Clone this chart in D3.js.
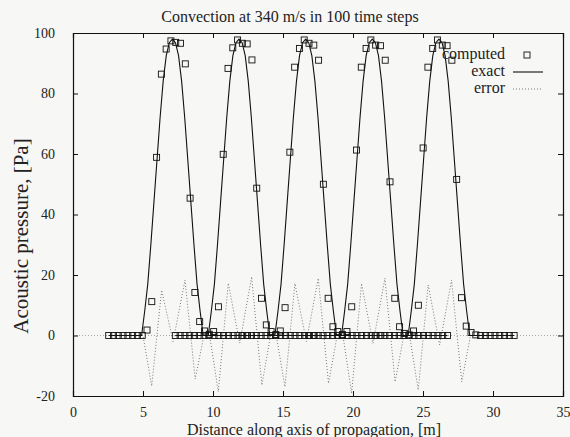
<!DOCTYPE html>
<html>
<head>
<meta charset="utf-8">
<script src="https://cdn.jsdelivr.net/npm/d3@7"></script>
<style>
  body { margin: 0; background: #f7f7f5; }
  svg { display: block; font-family: "Liberation Serif", "Times New Roman", serif; }
  .axis path { stroke: #111; }
  .axis line { stroke: #111; }
  .axis text { font-family: "Liberation Serif", serif; font-size: 14px; fill: #222; }
</style>
</head>
<body>
<div id="container"></div>
<script>
// tick labels
const xTicks = [0, 5, 10, 15, 20, 25, 30, 35];
const yTicks = [-20, 0, 20, 40, 60, 80, 100];

// computed solution: 5 snapshots on a grid, start position of each snapshot + step
const snapStart = [2.55, 7.31, 12.07, 16.83, 21.59];
const gridStep = 0.342;
const computed1 = [0, 0, 0, 0, 0, 0, 0, 0, 1.8, 11.2, 58.9, 86.4, 94.7, 97.4, 96.9, 96.6, 89.8, 45.4, 14.2, 4.6, 1.5, 0.4, 0, 0, 0, 0, 0, 0, 0, 0];
const computed2 = [0, 0, 0, 0, 0, 0, 0, 0, 1.3, 9.5, 59.9, 88.3, 95.1, 97.7, 96.6, 96.4, 91.1, 48.7, 12.3, 3.5, 1.3, 0.3, 0, 0, 0, 0, 0, 0, 0, 0];
const computed3 = [0, 0, 0, 0, 0, 0, 0, 0, 1.5, 9.2, 60.6, 88.7, 94.9, 97.7, 96.6, 96.0, 91.0, 50.0, 12.3, 2.9, 1.3, 0.3, 0, 0, 0, 0, 0, 0, 0, 0];
const computed4 = [0, 0, 0, 0, 0, 0, 0, 0, 1.3, 9.5, 61.3, 88.7, 94.9, 97.7, 96.0, 95.8, 91.0, 50.8, 12.3, 2.9, 0.7, 0.2, 0, 0, 0, 0, 0, 0, 0, 0];
const computed5 = [0, 0, 0, 0, 0, 0, 0, 0, 1.5, 10.0, 62.0, 88.7, 94.9, 97.7, 96.0, 95.8, 91.0, 51.6, 12.5, 3.1, 1.0, 0.2, 0, 0, 0, 0, 0, 0, 0, 0];
const computedAll = [computed1, computed2, computed3, computed4, computed5];

// exact pulse: left foot of each pulse, then the profile along the pulse
const pulseBase = [4.9, 9.66, 14.42, 19.18, 23.94];
const exactOffsets = [0, 0.22, 0.44, 0.66, 0.88, 1.1, 1.32, 1.54, 1.76, 1.98, 2.2, 2.42, 2.64, 2.86, 3.08, 3.3, 3.52, 3.74, 3.96, 4.18, 4.4];
const exactShape = [0, 8, 17, 30, 44, 58, 72, 84, 92.5, 96.8, 98.0, 96.8, 92.5, 84, 72, 58, 44, 30, 17, 8, 0];

// error (computed - exact) zigzag per pulse
const errOffsets = [0.1, 0.72, 1.43, 2.25, 3.1, 3.83, 4.45];
const error1 = [0, -16.7, 15.0, -2.0, 18.3, -14.4, 0];
const error2 = [0, -18.6, 17.3, -2.5, 19.4, -16.4, 0];
const error3 = [0, -17.0, 17.2, -2.0, 18.9, -15.8, 0];
const error4 = [0, -19.1, 17.2, -2.6, 18.9, -15.3, 0];
const error5 = [0, -18.0, 16.7, -3.1, 18.3, -15.3, 0];
const errorAll = [error1, error2, error3, error4, error5];

const w = 570;
const h = 437;
const margin = { top: 33, right: 7, bottom: 41, left: 73 };

const xScale = d3.scaleLinear().domain([0, 35]).range([margin.left, w - margin.right]);
const yScale = d3.scaleLinear().domain([-20, 100]).range([h - margin.bottom, margin.top]);

let svg = d3.select("#container").append("svg").attr("width", w).attr("height", h);

// zero axis (dotted)
svg.append("line")
  .attr("x1", xScale(0)).attr("x2", xScale(35))
  .attr("y1", yScale(0)).attr("y2", yScale(0))
  .attr("stroke", "#aaa").attr("stroke-dasharray", "1,2");

const line = d3.line().x((d) => xScale(d[0])).y((d) => yScale(d[1]));

// build series
let computedPts = [];
let exactLines = [];
let errorLines = [];
for (let k = 0; k < 5; k++) {
  const xs = computedAll[k].map((v, i) => snapStart[k] + i * gridStep);
  computedAll[k].forEach((v, i) => computedPts.push([xs[i], v]));
  const x0 = xs[0], x1 = xs[xs.length - 1];
  let ex = [[x0, 0]];
  exactOffsets.forEach((o, i) => ex.push([pulseBase[k] + o, exactShape[i]]));
  ex.push([x1, 0]);
  exactLines.push(ex);
  let er = [[x0, 0]];
  errOffsets.forEach((o, i) => er.push([pulseBase[k] + o, errorAll[k][i]]));
  er.push([x1, 0]);
  errorLines.push(er);
}

// error dotted lines
svg.selectAll(".err")
  .data(errorLines)
  .enter()
  .append("path")
  .attr("class", "err")
  .attr("d", line)
  .attr("fill", "none")
  .attr("stroke", "#777")
  .attr("stroke-width", 1)
  .attr("stroke-dasharray", "1,2");

// exact solid lines
svg.selectAll(".exact")
  .data(exactLines)
  .enter()
  .append("path")
  .attr("class", "exact")
  .attr("d", line)
  .attr("fill", "none")
  .attr("stroke", "#111")
  .attr("stroke-width", 1.1);

// computed squares
const sq = 6;
svg.selectAll(".pt")
  .data(computedPts)
  .enter()
  .append("rect")
  .attr("class", "pt")
  .attr("x", (d) => xScale(d[0]) - sq / 2)
  .attr("y", (d) => yScale(d[1]) - sq / 2)
  .attr("width", sq)
  .attr("height", sq)
  .attr("fill", "none")
  .attr("stroke", "#111")
  .attr("stroke-width", 0.9);

// axes, ticks pointing inwards on all four sides
const x_axis = d3.axisBottom(xScale).tickValues(xTicks).tickSize(-5).tickPadding(11);
const y_axis = d3.axisLeft(yScale).tickValues(yTicks).tickSize(-5).tickPadding(18).tickFormat((d) => String(d));
svg.append("g").attr("class", "axis").attr("transform", "translate(0," + (h - margin.bottom) + ")").call(x_axis);
svg.append("g").attr("class", "axis").attr("transform", "translate(" + margin.left + ",0)").call(y_axis);
svg.append("g").attr("class", "axis").attr("transform", "translate(0," + margin.top + ")")
  .call(d3.axisTop(xScale).tickValues(xTicks).tickSize(-5).tickFormat(""));
svg.append("g").attr("class", "axis").attr("transform", "translate(" + (w - margin.right) + ",0)")
  .call(d3.axisRight(yScale).tickValues(yTicks).tickSize(-5).tickFormat(""));
svg.selectAll(".axis .domain").attr("stroke-width", 1.2);

// title and axis labels
svg.append("text")
  .attr("x", 290).attr("y", 22)
  .attr("text-anchor", "middle")
  .style("font-size", "16px")
  .attr("fill", "#222")
  .text("Convection at 340 m/s in 100 time steps");

svg.append("text")
  .attr("x", 314).attr("y", 435)
  .attr("text-anchor", "middle")
  .style("font-size", "16px")
  .attr("fill", "#222")
  .text("Distance along axis of propagation, [m]");

svg.append("text")
  .attr("transform", "rotate(-90)")
  .attr("x", -236).attr("y", 28)
  .attr("text-anchor", "middle")
  .style("font-size", "21px")
  .attr("fill", "#222")
  .text("Acoustic pressure, [Pa]");

// legend
const legend = [
  { name: "computed", y: 59 },
  { name: "exact", y: 76 },
  { name: "error", y: 93 }
];
let lg = svg.append("g");
lg.selectAll("text")
  .data(legend)
  .enter()
  .append("text")
  .attr("x", 505)
  .attr("y", (d) => d.y)
  .attr("text-anchor", "end")
  .style("font-size", "16px")
  .attr("fill", "#222")
  .text((d) => d.name);
lg.append("rect")
  .attr("x", 527 - sq / 2).attr("y", 55 - sq / 2)
  .attr("width", sq).attr("height", sq)
  .attr("fill", "none").attr("stroke", "#111").attr("stroke-width", 0.9);
lg.append("line")
  .attr("x1", 513).attr("x2", 543).attr("y1", 72).attr("y2", 72)
  .attr("stroke", "#111").attr("stroke-width", 1.1);
lg.append("line")
  .attr("x1", 513).attr("x2", 543).attr("y1", 89).attr("y2", 89)
  .attr("stroke", "#777").attr("stroke-dasharray", "1,2");
</script>
</body>
</html>
